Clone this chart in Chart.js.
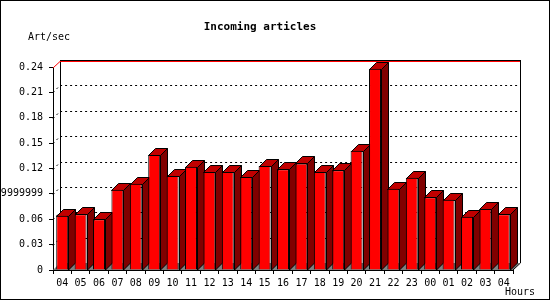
<!DOCTYPE html>
<html>
<head>
<meta charset="utf-8">
<script src="https://cdn.jsdelivr.net/npm/chart.js@4/dist/chart.umd.min.js"></script>
<style>
    body { margin: 0; background: #fff; }
    canvas { display: block; }
</style>
</head>
<body>
<canvas id="mychart" width="550" height="300"></canvas>
<script>
// data
var hours = ['04', '05', '06', '07', '08', '09', '10', '11', '12', '13', '14', '15', '16',
    '17', '18', '19', '20', '21', '22', '23', '00', '01', '02', '03', '04'];
var articles = [0.064, 0.066, 0.060, 0.095, 0.102, 0.136, 0.111, 0.122, 0.116, 0.116, 0.110, 0.123, 0.119,
    0.126, 0.116, 0.118, 0.141, 0.238, 0.096, 0.109, 0.086, 0.083, 0.063, 0.072, 0.066];
var yTicks = [0, 0.03, 0.06, 0.09, 0.12, 0.15, 0.18, 0.21, 0.24];
var yTickLabels = ['0', '0.03', '0.06', '0.09999999999999999', '0.12', '0.15', '0.18', '0.21', '0.24'];

var DEPTH = 7;
var MONO = '"DejaVu Sans Mono", "Liberation Mono", monospace';

// back wall, floor, grid and the 3d sides of the bars
var depthPlugin = {
    id: 'depth',
    beforeDatasetsDraw: function(chart) {
        var ctx = chart.ctx;
        var a = chart.chartArea;
        var ys = chart.scales.y;
        var L = a.left, R = a.right, B = a.bottom;
        ctx.save();

        // floor
        ctx.fillStyle = '#808080';
        ctx.beginPath();
        ctx.moveTo(L, B);
        ctx.lineTo(R, B);
        ctx.lineTo(R + DEPTH, B - DEPTH);
        ctx.lineTo(L + DEPTH, B - DEPTH);
        ctx.closePath();
        ctx.fill();

        // dotted grid on the back wall
        ctx.strokeStyle = '#000';
        ctx.lineWidth = 1;
        ctx.setLineDash([2, 3]);
        yTicks.forEach(function(v) {
            if (v === 0 || v === yTicks[yTicks.length - 1]) return;
            var py = Math.round(ys.getPixelForValue(v)) + 0.5;
            ctx.beginPath();
            ctx.moveTo(L, py);
            ctx.lineTo(L + DEPTH, py - DEPTH);
            ctx.lineTo(R + DEPTH, py - DEPTH);
            ctx.stroke();
        });
        ctx.setLineDash([]);

        // back wall edges
        var topY = Math.round(ys.getPixelForValue(yTicks[yTicks.length - 1]));
        ctx.beginPath();
        ctx.moveTo(L + DEPTH + 0.5, B - DEPTH);
        ctx.lineTo(L + DEPTH + 0.5, topY - DEPTH);
        ctx.moveTo(R + DEPTH + 0.5, topY - DEPTH);
        ctx.lineTo(R + DEPTH + 0.5, B - DEPTH);
        ctx.lineTo(R, B);
        ctx.stroke();
        ctx.beginPath();
        ctx.moveTo(L + DEPTH, topY - DEPTH + 0.5);
        ctx.lineTo(R + DEPTH + 1, topY - DEPTH + 0.5);
        ctx.stroke();
        ctx.strokeStyle = '#ff0000';
        ctx.beginPath();
        ctx.moveTo(L, topY + 1);
        ctx.lineTo(L + DEPTH, topY - DEPTH + 1.5);
        ctx.lineTo(R + DEPTH, topY - DEPTH + 1.5);
        ctx.stroke();

        // sides and tops of the bars
        var meta = chart.getDatasetMeta(0);
        ctx.strokeStyle = '#000';
        meta.data.forEach(function(bar) {
            var p = bar.getProps(['x', 'y', 'base', 'width'], true);
            var x1 = Math.round(p.x - p.width / 2) + 0.5;
            var x2 = Math.round(p.x + p.width / 2) + 0.5;
            var y = Math.round(p.y) + 0.5;
            var b = Math.round(p.base);

            ctx.fillStyle = '#800000';
            ctx.beginPath();
            ctx.moveTo(x2, y);
            ctx.lineTo(x2 + DEPTH, y - DEPTH);
            ctx.lineTo(x2 + DEPTH, b - DEPTH);
            ctx.lineTo(x2, b);
            ctx.closePath();
            ctx.fill();
            ctx.stroke();

            ctx.fillStyle = '#c00000';
            ctx.beginPath();
            ctx.moveTo(x1, y);
            ctx.lineTo(x1 + DEPTH, y - DEPTH);
            ctx.lineTo(x2 + DEPTH, y - DEPTH);
            ctx.lineTo(x2, y);
            ctx.closePath();
            ctx.fill();
            ctx.stroke();
        });
        ctx.restore();
    },
    afterDraw: function(chart) {
        var ctx = chart.ctx;
        ctx.save();
        ctx.fillStyle = '#000';
        ctx.textBaseline = 'middle';
        ctx.font = 'bold 11px ' + MONO;
        ctx.textAlign = 'center';
        ctx.fillText('Incoming articles', 260, 27);
        ctx.font = '10px ' + MONO;
        ctx.textAlign = 'left';
        ctx.fillText('Art/sec', 28, 37);
        ctx.fillText('Hours', 505, 292);
        // frame
        ctx.strokeStyle = '#000';
        ctx.strokeRect(0.5, 0.5, chart.width - 1, chart.height - 1);
        ctx.restore();
    }
};

var myChart = new Chart(document.getElementById('mychart'), {
    type: 'bar',
    data: {
        labels: hours,
        datasets: [{
            label: 'Art/sec',
            data: articles,
            backgroundColor: '#ff0000',
            borderColor: '#000',
            borderWidth: 1,
            barPercentage: 0.65,
            categoryPercentage: 1
        }]
    },
    options: {
        responsive: false,
        animation: false,
        devicePixelRatio: 1,
        layout: {
            padding: { top: 67, right: 37, left: 0, bottom: 0 }
        },
        plugins: {
            legend: { display: false },
            tooltip: { enabled: false }
        },
        scales: {
            x: {
                afterFit: function(s) { s.height = 30; },
                grid: { drawOnChartArea: false, tickLength: 4, color: '#000', offset: true },
                border: { color: '#000' },
                ticks: {
                    color: '#000',
                    font: { family: MONO, size: 10 },
                    padding: 3,
                    maxRotation: 0,
                    autoSkip: false
                }
            },
            y: {
                min: 0,
                max: 0.24,
                afterFit: function(s) { s.width = 53; },
                afterBuildTicks: function(s) {
                    s.ticks = yTicks.map(function(v) { return { value: v }; });
                },
                grid: { drawOnChartArea: false, tickLength: 4, color: '#000' },
                border: { color: '#000' },
                ticks: {
                    color: '#000',
                    font: { family: MONO, size: 10 },
                    padding: 6,
                    callback: function(value, index) { return yTickLabels[index]; }
                }
            }
        }
    },
    plugins: [depthPlugin]
});
</script>
</body>
</html>
